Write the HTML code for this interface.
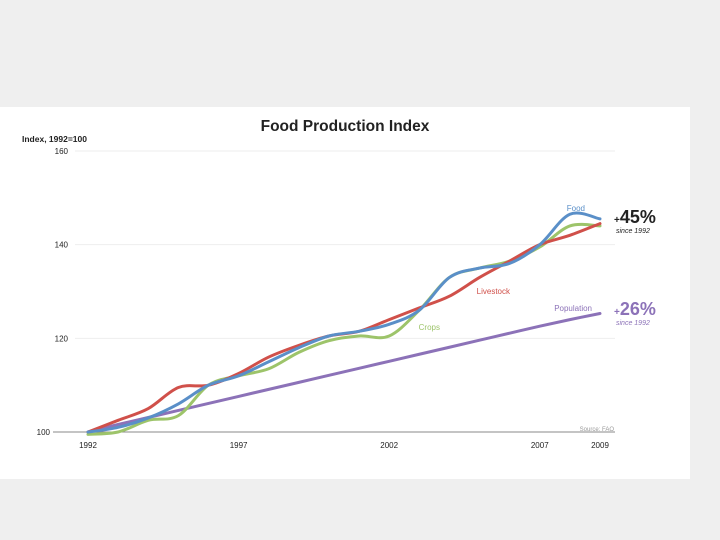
<!DOCTYPE html>
<html><head><meta charset="utf-8"><style>
body{margin:0;width:720px;height:540px;background:#efefef;overflow:hidden;font-family:"Liberation Sans",sans-serif}
svg{position:absolute;left:0;top:0}
</style></head><body>
<svg width="720" height="540">
<rect x="0" y="0" width="720" height="540" fill="#efefef"/>
<rect x="0" y="107" width="690" height="372" fill="#ffffff"/>
<text x="345" y="131" font-size="15.5" font-weight="bold" text-anchor="middle" fill="#222">Food Production Index</text>
<text x="22" y="142" font-size="8.5" font-weight="bold" fill="#222">Index, 1992=100</text>
<g id="grid"></g><g id="series"></g><g id="xt"></g>
<text x="614" y="431" font-size="6" fill="#999" text-anchor="end">Source: FAO</text>
<text x="585" y="211" font-size="8" fill="#5a8fc8" text-anchor="end">Food</text>
<text x="510" y="294" font-size="8" fill="#d0504a" text-anchor="end">Livestock</text>
<text x="440" y="330" font-size="8" fill="#9dc46a" text-anchor="end">Crops</text>
<text x="592" y="311" font-size="8" fill="#8c72b8" text-anchor="end">Population</text>
<text x="614" y="223" font-size="18" font-weight="bold" fill="#222"><tspan font-size="10">+</tspan>45%</text>
<text x="616" y="233" font-size="7" font-style="italic" fill="#222">since 1992</text>
<text x="614" y="315" font-size="18" font-weight="bold" fill="#8c72b8"><tspan font-size="10">+</tspan>26%</text>
<text x="616" y="325" font-size="7" font-style="italic" fill="#8c72b8">since 1992</text>
</svg>
<script>
const years=[1992,1993,1994,1995,1996,1997,1998,1999,2000,2001,2002,2003,2004,2005,2006,2007,2008,2009];
const food=[100,101,103,106,110,112,115,118,120.5,121.5,123,126,133,135,136,140,146.5,145.5];
const livestock=[100,102.5,105,109.5,110,112.5,116,118.5,120.5,121.5,124,126.5,129,133,136.5,140,142,144.5];
const crops=[99.5,100,102.5,103.5,110,112,113.5,117,119.5,120.5,120.5,126,133,135,136.5,139.5,144,144];
const population=[100,101.6,103.1,104.6,106.1,107.6,109.1,110.6,112.1,113.6,115.1,116.6,118.1,119.6,121.1,122.6,124,125.3];
const yTicks=[100,120,140,160];
const xTicks=[1992,1997,2002,2007,2009];
const NS="http://www.w3.org/2000/svg";
const X=y=>88+(y-1992)*(600-88)/17;
const Y=v=>432-(v-100)*(432-151)/60;
const grid=document.getElementById('grid');
yTicks.forEach(t=>{
 const l=document.createElementNS(NS,'line');
 l.setAttribute('x1',t===100?53:75);l.setAttribute('x2',615);l.setAttribute('y1',Y(t));l.setAttribute('y2',Y(t));
 l.setAttribute('stroke',t===100?'#888':'#eee');l.setAttribute('stroke-width',1);
 
 
 grid.appendChild(l);
 const tx=document.createElementNS(NS,'text');
 tx.setAttribute('x',t===100?50:68);tx.setAttribute('y',Y(t)+3);tx.setAttribute('font-size','8');tx.setAttribute('text-anchor','end');tx.setAttribute('fill','#222');
 tx.textContent=t;
 
 
 grid.appendChild(tx);
});
const xt=document.getElementById('xt');
xTicks.forEach(t=>{
 const tx=document.createElementNS(NS,'text');
 tx.setAttribute('x',X(t));tx.setAttribute('y',448);tx.setAttribute('font-size','8');tx.setAttribute('text-anchor','middle');tx.setAttribute('fill','#222');
 tx.textContent=t;
 
 
 xt.appendChild(tx);
});
function path(vals){
 const p=vals.map((v,i)=>[X(years[i]),Y(v)]);
 let d='M'+p[0][0]+','+p[0][1];
 for(let i=0;i<p.length-1;i++){
  const p0=p[i-1]||p[i],p1=p[i],p2=p[i+1],p3=p[i+2]||p2;
  const c1=[p1[0]+(p2[0]-p0[0])/6,p1[1]+(p2[1]-p0[1])/6];
  const c2=[p2[0]-(p3[0]-p1[0])/6,p2[1]-(p3[1]-p1[1])/6];
  d+=` C${c1[0]},${c1[1]} ${c2[0]},${c2[1]} ${p2[0]},${p2[1]}`;
 }
 return d;
}
const sg=document.getElementById('series');
[[population,'#8c72b8','population-line'],[crops,'#9dc46a','crops-line'],[livestock,'#d0504a','livestock-line'],[food,'#5a8fc8','food-line']].forEach(([vals,c,n])=>{
 const el=document.createElementNS(NS,'path');
 el.setAttribute('d',path(vals));el.setAttribute('fill','none');el.setAttribute('stroke',c);el.setAttribute('stroke-width',3);el.setAttribute('stroke-linecap','round');
 
 
 sg.appendChild(el);
});
</script>
</body></html>
